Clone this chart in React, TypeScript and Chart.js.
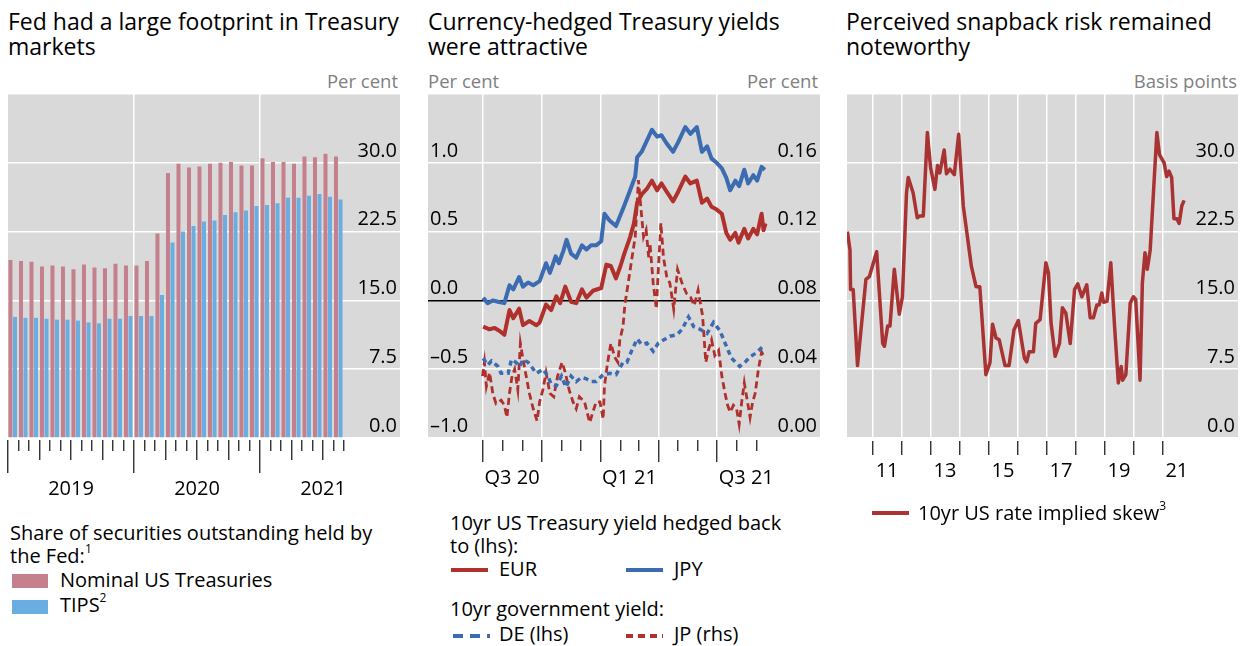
import React, { useEffect, useRef } from 'react';
import { Chart, registerables } from 'chart.js';

Chart.register(...registerables);

const FONT = "'Open Sans', 'Noto Sans', sans-serif";
const PLOT_BG = '#d9d9d9';
const PINK = '#c5808d';
const LIGHT_BLUE = '#6aade0';
const RED = '#b0302c';
const BLUE = '#3b6bb0';
const SKEW_RED = '#a93232';
const TICK_FONT_SIZE = 20;

// ---------- Panel 1: Fed share of securities outstanding (per cent) ----------
const fedMonths = [
  '2019-01', '2019-02', '2019-03', '2019-04', '2019-05', '2019-06', '2019-07', '2019-08',
  '2019-09', '2019-10', '2019-11', '2019-12', '2020-01', '2020-02', '2020-03', '2020-04',
  '2020-05', '2020-06', '2020-07', '2020-08', '2020-09', '2020-10', '2020-11', '2020-12',
  '2021-01', '2021-02', '2021-03', '2021-04', '2021-05', '2021-06', '2021-07', '2021-08',
];
const nominalShare = [
  19.4, 19.3, 19.2, 18.7, 18.8, 18.7, 18.4, 18.9, 18.6, 18.5, 19.0, 18.8, 18.8, 19.3, 22.3, 28.9,
  29.9, 29.5, 29.6, 29.9, 30.0, 30.1, 29.7, 29.7, 30.5, 30.1, 30.1, 29.9, 30.7, 30.6, 31.0, 30.7,
];
const tipsShare = [
  13.2, 13.1, 13.1, 13.0, 12.9, 12.9, 12.8, 12.6, 12.5, 13.0, 13.0, 13.3, 13.3, 13.3, 15.6, 21.3,
  22.5, 23.1, 23.6, 23.7, 24.3, 24.6, 24.8, 25.3, 25.4, 25.6, 26.2, 26.2, 26.4, 26.6, 26.3, 26.0,
];
const fedYearLabels = ['2019', '2020', '2021'];

// ---------- Panel 2: currency-hedged yields (days since 1 Jul 2020) ----------
const hedgeQuarterLabels = ['Q3 20', 'Q1 21', 'Q3 21'];
const eurDays = [1, 11, 19, 26, 34, 42, 48, 57, 63, 73, 84, 89, 99, 107, 115, 121, 129, 138, 146, 155, 162, 172, 185, 193, 200, 208, 215, 221, 230, 236, 241, 248, 256, 264, 272, 279, 287, 297, 305, 316, 324, 334, 342, 350, 357, 365, 373, 380, 386, 394, 399, 408, 414, 422, 428, 435, 438, 441];
const eurValues = [-0.19, -0.21, -0.2, -0.22, -0.25, -0.07, -0.13, -0.06, -0.18, -0.15, -0.18, -0.16, -0.03, -0.07, 0.03, -0.02, 0.1, -0.01, -0.02, 0.08, 0.02, 0.07, 0.09, 0.26, 0.25, 0.16, 0.25, 0.34, 0.46, 0.56, 0.71, 0.77, 0.81, 0.87, 0.8, 0.85, 0.79, 0.72, 0.79, 0.9, 0.85, 0.87, 0.71, 0.74, 0.68, 0.66, 0.63, 0.49, 0.44, 0.49, 0.42, 0.52, 0.45, 0.52, 0.48, 0.63, 0.51, 0.56];
const jpyDays = [1, 8, 16, 24, 34, 42, 48, 57, 63, 71, 79, 89, 99, 105, 114, 119, 126, 131, 138, 146, 155, 162, 169, 177, 185, 190, 198, 208, 215, 221, 230, 238, 241, 248, 256, 264, 272, 279, 287, 297, 305, 316, 324, 334, 342, 350, 357, 365, 373, 380, 386, 394, 400, 408, 414, 422, 428, 435, 440];
const jpyValues = [0.02, -0.02, 0.0, -0.01, -0.02, 0.11, 0.08, 0.17, 0.1, 0.13, 0.11, 0.14, 0.27, 0.2, 0.32, 0.27, 0.36, 0.44, 0.34, 0.31, 0.4, 0.37, 0.4, 0.4, 0.43, 0.63, 0.58, 0.54, 0.62, 0.69, 0.8, 0.9, 1.04, 1.08, 1.16, 1.24, 1.19, 1.2, 1.14, 1.08, 1.15, 1.26, 1.21, 1.26, 1.08, 1.12, 1.03, 1.0, 0.96, 0.89, 0.8, 0.87, 0.83, 0.95, 0.85, 0.91, 0.87, 0.97, 0.95];
const deDays = [1, 8, 14, 24, 29, 40, 45, 52, 58, 63, 71, 84, 94, 102, 107, 115, 123, 130, 138, 146, 154, 162, 169, 177, 188, 198, 208, 219, 225, 233, 241, 248, 256, 266, 274, 285, 292, 303, 311, 321, 329, 339, 350, 360, 370, 378, 388, 401, 409, 417, 427, 438];
const deValues = [-0.42, -0.47, -0.44, -0.48, -0.53, -0.53, -0.43, -0.45, -0.48, -0.43, -0.45, -0.53, -0.5, -0.55, -0.61, -0.62, -0.55, -0.63, -0.55, -0.59, -0.56, -0.57, -0.59, -0.59, -0.54, -0.53, -0.54, -0.45, -0.45, -0.36, -0.28, -0.32, -0.31, -0.37, -0.31, -0.28, -0.26, -0.25, -0.21, -0.12, -0.19, -0.21, -0.24, -0.16, -0.22, -0.31, -0.42, -0.48, -0.45, -0.41, -0.38, -0.33];
const jpDays = [0, 3, 6, 11, 16, 21, 29, 34, 38, 42, 46, 50, 55, 59, 63, 68, 73, 79, 85, 89, 94, 99, 105, 111, 117, 124, 129, 135, 141, 146, 151, 159, 167, 172, 177, 183, 188, 190, 195, 200, 206, 211, 214, 219, 222, 227, 233, 238, 243, 247, 251, 255, 259, 261, 266, 271, 274, 278, 282, 287, 292, 298, 304, 311, 318, 324, 330, 336, 343, 348, 352, 357, 362, 368, 373, 378, 382, 386, 391, 396, 400, 404, 408, 413, 417, 421, 425, 430, 435, 439];
const jpValues = [0.036, 0.044, 0.03, 0.038, 0.026, 0.02, 0.022, 0.019, 0.012, 0.026, 0.036, 0.04, 0.028, 0.055, 0.046, 0.036, 0.026, 0.017, 0.01, 0.021, 0.028, 0.038, 0.026, 0.024, 0.036, 0.044, 0.038, 0.028, 0.021, 0.017, 0.024, 0.021, 0.009, 0.015, 0.021, 0.021, 0.011, 0.03, 0.044, 0.055, 0.047, 0.044, 0.057, 0.065, 0.078, 0.09, 0.105, 0.117, 0.15, 0.133, 0.117, 0.121, 0.105, 0.113, 0.09, 0.075, 0.098, 0.125, 0.105, 0.094, 0.09, 0.075, 0.098, 0.09, 0.084, 0.082, 0.077, 0.086, 0.071, 0.044, 0.051, 0.057, 0.048, 0.051, 0.036, 0.026, 0.019, 0.015, 0.019, 0.017, 0.008, 0.021, 0.032, 0.021, 0.012, 0.021, 0.026, 0.04, 0.05, 0.047];

// ---------- Panel 3: 10yr US rate implied skew (basis points) ----------
const skewYears = [2010.13, 2010.22, 2010.24, 2010.33, 2010.48, 2010.77, 2010.89, 2011.14, 2011.35, 2011.41, 2011.52, 2011.6, 2011.75, 2011.92, 2012.03, 2012.17, 2012.23, 2012.4, 2012.54, 2012.63, 2012.75, 2012.89, 2013.0, 2013.15, 2013.24, 2013.32, 2013.47, 2013.55, 2013.67, 2013.82, 2013.97, 2014.13, 2014.41, 2014.57, 2014.7, 2014.91, 2015.05, 2015.14, 2015.26, 2015.37, 2015.57, 2015.71, 2015.88, 2016.03, 2016.24, 2016.32, 2016.4, 2016.55, 2016.63, 2016.78, 2016.98, 2017.07, 2017.16, 2017.3, 2017.45, 2017.55, 2017.67, 2017.82, 2017.97, 2018.08, 2018.22, 2018.39, 2018.51, 2018.62, 2018.74, 2018.82, 2018.91, 2018.97, 2019.09, 2019.22, 2019.35, 2019.48, 2019.58, 2019.63, 2019.74, 2019.89, 2020.0, 2020.08, 2020.23, 2020.31, 2020.4, 2020.48, 2020.58, 2020.81, 2020.9, 2021.06, 2021.15, 2021.23, 2021.32, 2021.4, 2021.5, 2021.58, 2021.67, 2021.75];
const skewValues = [22.5, 20.5, 16.2, 16.2, 7.9, 17.3, 17.6, 20.3, 10.3, 10.0, 12.2, 12.2, 18.4, 13.5, 15.4, 26.7, 28.4, 26.7, 24.0, 24.2, 24.2, 33.3, 29.5, 27.1, 29.7, 28.9, 31.4, 28.8, 29.3, 28.7, 33.1, 25.3, 18.7, 16.5, 16.5, 6.9, 8.2, 12.4, 10.9, 10.7, 7.9, 7.9, 11.8, 12.8, 8.7, 8.3, 9.4, 9.4, 12.5, 12.9, 19.1, 18.0, 12.5, 8.9, 10.3, 14.2, 13.6, 10.3, 16.2, 16.8, 15.4, 16.7, 13.1, 13.1, 14.5, 14.5, 15.8, 14.8, 14.9, 19.1, 12.2, 6.0, 7.8, 6.3, 6.9, 14.7, 15.4, 15.1, 6.3, 16.9, 20.2, 18.4, 20.5, 33.3, 30.9, 30.0, 28.5, 29.1, 28.4, 23.9, 23.9, 23.4, 25.3, 25.9];
const skewYearLabels = ['11', '13', '15', '17', '19', '21'];

// ---------- helpers ----------
type Kind = 'major' | 'mid' | 'minor' | 'label';
type TickDef = { value: number; label: string; kind: Kind; grid: boolean };
type Area = { left: number; top: number; right: number; bottom: number };

const bgPlugin = {
  id: 'plotBg',
  beforeDraw(chart: any) {
    const { ctx, chartArea: a } = chart;
    ctx.save();
    ctx.fillStyle = PLOT_BG;
    ctx.fillRect(a.left, a.top, a.right - a.left, a.bottom - a.top);
    ctx.restore();
  },
};

function xAxis(min: number, max: number, defs: TickDef[], tickLength: number, dashes: Partial<Record<Kind, number[]>>) {
  const sorted = [...defs].sort((a, b) => a.value - b.value);
  const byValue = new Map(sorted.map((t) => [t.value, t]));
  const get = (ctx: any) => byValue.get(ctx?.tick?.value);
  return {
    type: 'linear',
    min,
    max,
    offset: false,
    afterBuildTicks: (axis: any) => {
      axis.ticks = sorted.map((t) => ({ value: t.value }));
    },
    ticks: {
      autoSkip: false,
      maxRotation: 0,
      minRotation: 0,
      padding: 4,
      color: '#000',
      font: { family: FONT, size: TICK_FONT_SIZE },
      callback: (v: number) => byValue.get(v)?.label ?? '',
    },
    grid: {
      offset: false,
      drawOnChartArea: true,
      drawTicks: true,
      tickLength,
      lineWidth: 1.5,
      color: (ctx: any) => (get(ctx)?.grid ? '#ffffff' : 'rgba(0,0,0,0)'),
      tickColor: (ctx: any) => (get(ctx)?.kind === 'label' ? 'rgba(0,0,0,0)' : '#222'),
      tickWidth: 1.3,
      tickBorderDash: (ctx: any) => dashes[get(ctx)?.kind as Kind] ?? [],
    },
    border: { display: false },
  };
}

function yAxis(position: 'left' | 'right', min: number, max: number, step: number, fmt: (v: number) => string, gridColor?: (ctx: any) => string) {
  return {
    type: 'linear',
    position,
    min,
    max,
    ticks: {
      stepSize: step,
      mirror: true,
      padding: position === 'right' ? -3 : 2,
      labelOffset: -12,
      color: '#000',
      font: { family: FONT, size: TICK_FONT_SIZE },
      callback: (v: number) => fmt(Number(v)),
    },
    grid: gridColor
      ? { color: gridColor, lineWidth: 1.5, drawTicks: false }
      : { display: false, drawTicks: false },
    border: { display: false },
  };
}

function baseOptions(pad: any) {
  return {
    responsive: false,
    animation: false,
    events: [],
    layout: { padding: pad },
    plugins: { legend: { display: false }, tooltip: { enabled: false } },
  };
}

const MARGIN_X = 6;
const CANVAS_TOP = 64;
const CANVAS_H = 444;

function FittedChart({ area, build }: { area: Area; build: (pad: any) => any }) {
  const ref = useRef<HTMLCanvasElement>(null);
  const width = area.right - area.left + 2 * MARGIN_X;
  const left = area.left - MARGIN_X;
  useEffect(() => {
    const canvas = ref.current!;
    const target = {
      left: MARGIN_X,
      top: area.top - CANVAS_TOP,
      right: MARGIN_X + area.right - area.left,
      bottom: area.bottom - CANVAS_TOP,
    };
    let pad = { left: 0, top: target.top, right: 0, bottom: 0 };
    let chart = new Chart(canvas, build(pad));
    for (let k = 0; k < 5; k++) {
      const a = chart.chartArea;
      const err = Math.abs(a.left - target.left) + Math.abs(a.top - target.top) + Math.abs(a.right - target.right) + Math.abs(a.bottom - target.bottom);
      if (err < 0.5) break;
      pad = {
        left: pad.left + target.left - a.left,
        top: pad.top + target.top - a.top,
        right: pad.right + a.right - target.right,
        bottom: pad.bottom + a.bottom - target.bottom,
      };
      chart.destroy();
      chart = new Chart(canvas, build(pad));
    }
    return () => chart.destroy();
  }, []);
  return (
    <canvas
      ref={ref}
      width={width}
      height={CANVAS_H}
      style={{ position: 'absolute', left, top: CANVAS_TOP, width, height: CANVAS_H }}
    />
  );
}

// ---------- panel configs ----------
const monthIndex = (s: string) => {
  const [y, m] = s.split('-').map(Number);
  return (y - 2019) * 12 + (m - 1);
};

function buildFed(pad: any) {
  const nMonths = fedMonths.length;
  const defs: TickDef[] = [];
  for (let i = 0; i <= nMonths; i++) {
    const yr = Math.floor(i / 12);
    const isMidYear = i % 12 === 6;
    defs.push({
      value: i,
      label: isMidYear && fedYearLabels[yr] ? fedYearLabels[yr] : '',
      kind: i % 12 === 0 ? 'major' : i % 3 === 0 ? 'mid' : 'minor',
      grid: i % 12 === 0 && i > 0,
    });
  }
  const pos = (m: string) => monthIndex(m) + 0.45;
  return {
    type: 'bar',
    data: {
      datasets: [
        {
          label: 'Nominal US Treasuries',
          data: fedMonths.map((m, i) => ({ x: pos(m), y: nominalShare[i] })),
          backgroundColor: PINK,
          categoryPercentage: 0.86,
          barPercentage: 0.89,
        },
        {
          label: 'TIPS',
          data: fedMonths.map((m, i) => ({ x: pos(m), y: tipsShare[i] })),
          backgroundColor: LIGHT_BLUE,
          categoryPercentage: 0.86,
          barPercentage: 0.89,
        },
      ],
    },
    options: {
      ...baseOptions(pad),
      scales: {
        x: xAxis(0, 37.33, defs, 35, { mid: [0, 2, 20, 200], minor: [0, 2, 11, 200], major: [0, 2, 33, 200] }),
        y: yAxis('right', 0, 37.5, 7.5, (v) => (v > 30.01 ? '' : v.toFixed(1)), () => '#ffffff'),
      },
    },
    plugins: [bgPlugin],
  };
}

const HEDGE_ORIGIN = Date.UTC(2020, 6, 1);
const dayOf = (y: number, m: number) => Math.round((Date.UTC(y, m, 1) - HEDGE_ORIGIN) / 86400000);

function buildHedge(pad: any) {
  const defs: TickDef[] = [];
  for (let k = 0; k <= 14; k++) {
    const y = 2020 + Math.floor((6 + k) / 12);
    const m = (6 + k) % 12;
    defs.push({ value: dayOf(y, m), label: '', kind: m % 3 === 0 ? 'major' : 'minor', grid: m % 3 === 0 });
  }
  hedgeQuarterLabels.forEach((l) => {
    const q = Number(l[1]);
    const y = 2000 + Number(l.slice(3));
    const s = dayOf(y, (q - 1) * 3);
    const e = dayOf(y, q * 3);
    defs.push({ value: (s + e) / 2, label: l, kind: 'label', grid: false });
  });
  const pts = (d: number[], v: number[]) => d.map((x, i) => ({ x, y: v[i] }));
  const common = { pointRadius: 0, tension: 0, fill: false };
  return {
    type: 'line',
    data: {
      datasets: [
        { ...common, label: 'EUR', data: pts(eurDays, eurValues), borderColor: RED, borderWidth: 4, yAxisID: 'y', borderJoinStyle: 'round' },
        { ...common, label: 'JPY', data: pts(jpyDays, jpyValues), borderColor: BLUE, borderWidth: 4, yAxisID: 'y', borderJoinStyle: 'round' },
        { ...common, label: 'DE (lhs)', data: pts(deDays, deValues), borderColor: BLUE, borderWidth: 3.5, borderDash: [5, 4], yAxisID: 'y' },
        { ...common, label: 'JP (rhs)', data: pts(jpDays, jpValues), borderColor: RED, borderWidth: 2.8, borderDash: [7, 4], yAxisID: 'y1' },
      ],
    },
    options: {
      ...baseOptions(pad),
      scales: {
        x: xAxis(-85, 526, defs, 24, { major: [0, 2, 22, 200], minor: [0, 2, 11, 200] }),
        y: yAxis(
          'left', -1, 1.5, 0.5,
          (v) => (v > 1.01 ? '' : v < -0.001 ? '\u2013' + Math.abs(v).toFixed(1) : Math.abs(v).toFixed(1)),
          (ctx: any) => (Math.abs(ctx?.tick?.value ?? 1) < 1e-9 ? '#000000' : '#ffffff'),
        ),
        y1: yAxis('right', 0, 0.2, 0.04, (v) => (v > 0.17 ? '' : v.toFixed(2))),
      },
    },
    plugins: [bgPlugin],
  };
}

function buildSkew(pad: any) {
  const defs: TickDef[] = [];
  for (let y = 2011; y <= 2021; y++) defs.push({ value: y, label: '', kind: 'major', grid: true });
  skewYearLabels.forEach((l) => defs.push({ value: 2000 + Number(l) + 0.5, label: l, kind: 'label', grid: false }));
  return {
    type: 'line',
    data: {
      datasets: [
        {
          label: '10yr US rate implied skew',
          data: skewYears.map((x, i) => ({ x, y: skewValues[i] })),
          borderColor: SKEW_RED,
          borderWidth: 3.5,
          pointRadius: 0,
          tension: 0,
          borderJoinStyle: 'round',
        },
      ],
    },
    options: {
      ...baseOptions(pad),
      scales: {
        x: xAxis(2010.117, 2023.61, defs, 17, { major: [0, 3, 14, 200] }),
        y: yAxis('right', 0, 37.5, 7.5, (v) => (v > 30.01 ? '' : v.toFixed(1)), () => '#ffffff'),
      },
    },
    plugins: [bgPlugin],
  };
}

// ---------- page ----------
const abs = (left: number, top: number, extra: React.CSSProperties = {}): React.CSSProperties => ({
  position: 'absolute',
  left,
  top,
  whiteSpace: 'pre',
  ...extra,
});

const titleStyle: React.CSSProperties = { fontSize: 23, lineHeight: '25px', color: '#000' };
const unitStyle: React.CSSProperties = { fontSize: 18.5, lineHeight: '20px', color: '#7f7f7f' };
const legStyle: React.CSSProperties = { fontSize: 20, lineHeight: '23px', color: '#000' };
const supStyle: React.CSSProperties = { fontSize: 12, verticalAlign: 'top', lineHeight: '12px', position: 'relative', top: -1 };

function LineSample({ left, top, color, dash }: { left: number; top: number; color: string; dash?: string }) {
  return (
    <svg style={{ position: 'absolute', left, top: top - 3 }} width={37} height={6}>
      <line x1={0} y1={3} x2={37} y2={3} stroke={color} strokeWidth={4} strokeDasharray={dash} />
    </svg>
  );
}

export default function App() {
  return (
    <div
      style={{
        position: 'absolute',
        left: 0,
        top: 0,
        width: 1245,
        height: 646,
        background: '#fff',
        fontFamily: FONT,
        overflow: 'hidden',
      }}
    >
      {/* titles */}
      <div style={abs(8, 9, titleStyle)}>{'Fed had a large footprint in Treasury\nmarkets'}</div>
      <div style={abs(428, 9, titleStyle)}>{'Currency-hedged Treasury yields\nwere attractive'}</div>
      <div style={abs(846, 9, titleStyle)}>{'Perceived snapback risk remained\nnoteworthy'}</div>

      {/* units */}
      <div style={abs(250, 71, { ...unitStyle, width: 148, textAlign: 'right' })}>Per cent</div>
      <div style={abs(428, 71, unitStyle)}>Per cent</div>
      <div style={abs(670, 71, { ...unitStyle, width: 148, textAlign: 'right' })}>Per cent</div>
      <div style={abs(1037, 71, { ...unitStyle, width: 200, textAlign: 'right' })}>Basis points</div>

      {/* charts */}
      <FittedChart area={{ left: 8, top: 94, right: 400, bottom: 438 }} build={buildFed} />
      <FittedChart area={{ left: 428, top: 94, right: 820, bottom: 438 }} build={buildHedge} />
      <FittedChart area={{ left: 847, top: 94, right: 1238, bottom: 438 }} build={buildSkew} />

      {/* legend panel 1 */}
      <div style={abs(10, 521, legStyle)}>
        {'Share of securities outstanding held by\nthe Fed:'}
        <span style={supStyle}>1</span>
      </div>
      <div style={{ position: 'absolute', left: 12, top: 574, width: 36, height: 14, background: PINK }} />
      <div style={abs(60, 568, legStyle)}>Nominal US Treasuries</div>
      <div style={{ position: 'absolute', left: 12, top: 600, width: 36, height: 14, background: LIGHT_BLUE }} />
      <div style={abs(60, 593, legStyle)}>
        TIPS<span style={supStyle}>2</span>
      </div>

      {/* legend panel 2 */}
      <div style={abs(450, 511, legStyle)}>{'10yr US Treasury yield hedged back\nto (lhs):'}</div>
      <LineSample left={451} top={570} color={RED} />
      <div style={abs(499, 557, legStyle)}>EUR</div>
      <LineSample left={626} top={570} color={BLUE} />
      <div style={abs(674, 557, legStyle)}>JPY</div>
      <div style={abs(450, 597, legStyle)}>10yr government yield:</div>
      <LineSample left={453} top={636} color={BLUE} dash="10 7" />
      <div style={abs(499, 622, legStyle)}>DE (lhs)</div>
      <LineSample left={626} top={636} color={RED} dash="7 5" />
      <div style={abs(674, 622, legStyle)}>JP (rhs)</div>

      {/* legend panel 3 */}
      <LineSample left={872} top={513} color={SKEW_RED} />
      <div style={abs(918, 501, legStyle)}>
        10yr US rate implied skew<span style={supStyle}>3</span>
      </div>
    </div>
  );
}
